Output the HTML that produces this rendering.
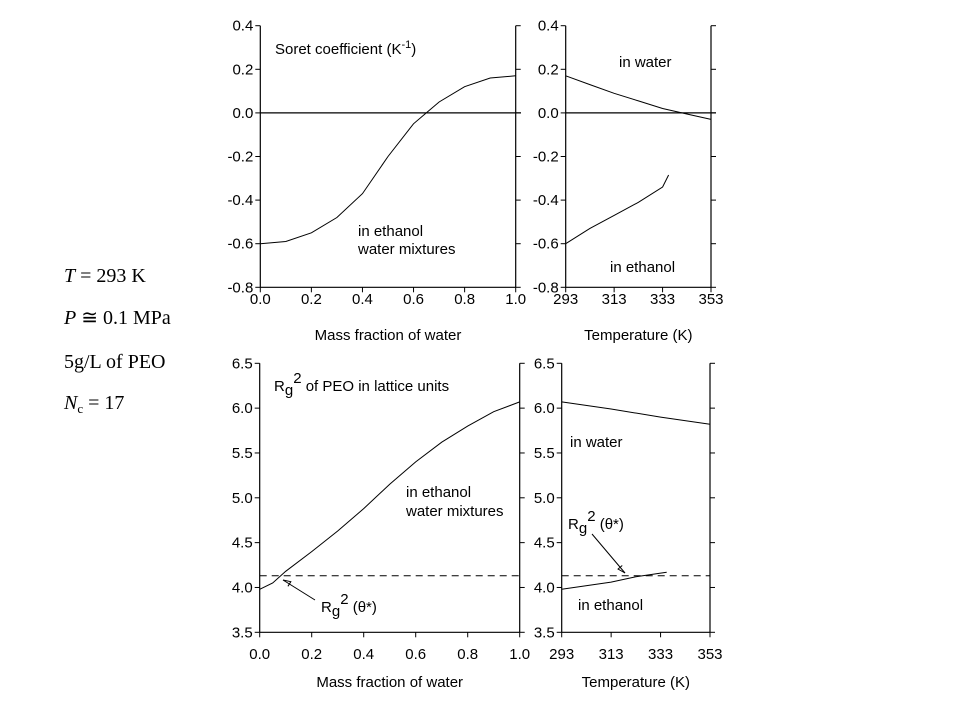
<!DOCTYPE html>
<html><head><meta charset="utf-8"><style>
body{margin:0;background:#fff;width:960px;height:720px;overflow:hidden}
svg{font-family:"Liberation Sans",Arial,sans-serif}
.t{font-family:"Liberation Serif",serif;font-size:20px}
</style></head><body>
<svg id="s" width="960" height="720">
<g>
<text class="t" x="64" y="282"><tspan font-style="italic">T</tspan> = 293 K</text>
<text class="t" x="64" y="324"><tspan font-style="italic">P</tspan> ≅ 0.1 MPa</text>
<text class="t" x="64" y="368">5g/L of PEO</text>
<text class="t" x="64" y="409"><tspan font-style="italic">N</tspan><tspan font-size="13" dy="4">c</tspan><tspan dy="-4"> = 17</tspan></text>
</g>
</svg>
<script>
// Top-left: Soret vs mass fraction
const soretX=[0,0.1,0.2,0.3,0.4,0.5,0.6,0.65,0.7,0.8,0.9,1.0];
const soretY=[-0.6,-0.59,-0.55,-0.48,-0.37,-0.2,-0.05,0.0,0.05,0.12,0.16,0.17];
// Top-right: Soret vs temperature
const soretWaterT=[293,303,313,323,333,343,353];
const soretWaterY=[0.17,0.13,0.09,0.055,0.02,-0.005,-0.03];
const soretEthT=[293,303,313,323,333,335.5];
const soretEthY=[-0.6,-0.53,-0.47,-0.41,-0.34,-0.285];
// Bottom-left: Rg2 vs mass fraction
const rgX=[0,0.05,0.1,0.2,0.3,0.4,0.5,0.6,0.7,0.8,0.9,1.0];
const rgY=[3.98,4.05,4.18,4.4,4.63,4.88,5.15,5.4,5.62,5.8,5.96,6.07];
// Bottom-right: Rg2 vs temperature
const rgWaterT=[293,313,333,353];
const rgWaterY=[6.07,5.99,5.9,5.82];
const rgEthT=[293,313,323,333,335.5];
const rgEthY=[3.98,4.06,4.12,4.16,4.17];
const thetaRg=4.13;
const fracTicks=["0.0","0.2","0.4","0.6","0.8","1.0"];
const tempTicks=["293","313","333","353"];
const soretTicks=["-0.8","-0.6","-0.4","-0.2","0.0","0.2","0.4"];
const rgTicks=["3.5","4.0","4.5","5.0","5.5","6.0","6.5"];

const NS="http://www.w3.org/2000/svg",S=document.getElementById('s');
function el(t,a,p){const e=document.createElementNS(NS,t);for(const k in a)e.setAttribute(k,a[k]);(p||S).appendChild(e);return e;}
function panel(name,x0,x1,y0,y1,xmin,xmax,ymin,ymax,xt,yt,xtitle,labY,titleY){
  const g=el('g',{});
  
  
  const sx=v=>x0+(v-xmin)/(xmax-xmin)*(x1-x0);
  const sy=v=>y1-(v-ymin)/(ymax-ymin)*(y1-y0);
  el('line',{x1:x0,y1:y0,x2:x0,y2:y1,stroke:'#000','stroke-width':1.2},g);
  el('line',{x1:x1,y1:y0,x2:x1,y2:y1,stroke:'#000','stroke-width':1.2},g);
  el('line',{x1:x0,y1:y1,x2:x1,y2:y1,stroke:'#000','stroke-width':1.2},g);
  yt.forEach(t=>{const y=sy(+t);
    el('line',{x1:x0-5,y1:y,x2:x0,y2:y,stroke:'#000'},g);
    el('line',{x1:x1,y1:y,x2:x1+5,y2:y,stroke:'#000'},g);
    const tx=el('text',{x:x0-7,y:y+5,'text-anchor':'end','font-size':15},g);tx.textContent=t;
    
    });
  xt.forEach(t=>{const x=sx(+t);
    el('line',{x1:x,y1:y1,x2:x,y2:y1+5,stroke:'#000'},g);
    const tx=el('text',{x:x,y:labY,'text-anchor':'middle','font-size':15},g);tx.textContent=t;
    
    });
  const tt=el('text',{x:(x0+x1)/2,y:titleY,'text-anchor':'middle','font-size':15},g);tt.textContent=xtitle;
  
  
  return {g,sx,sy};
}
function line(p,xs,ys,name,dash){
  const d=xs.map((v,i)=>(i?'L':'M')+p.sx(v).toFixed(1)+','+p.sy(ys[i]).toFixed(1)).join('');
  const e=el('path',{d:d,fill:'none',stroke:'#000','stroke-width':1,'stroke-dasharray':dash||'none'},p.g);
  
  
}
function txt(p,x,y,s,name){const e=el('text',{x:x,y:y,'font-size':15},p.g);e.innerHTML=s;
  
  }
function arrow(p,x1,y1,x2,y2){el('line',{x1:x1,y1:y1,x2:x2,y2:y2,stroke:'#000'},p.g);
  const a=Math.atan2(y2-y1,x2-x1),L=8;
  const pts=[[x2,y2],[x2-L*Math.cos(a-0.35),y2-L*Math.sin(a-0.35)],[x2-L*Math.cos(a+0.35),y2-L*Math.sin(a+0.35)]];
  el('polyline',{points:pts.map(q=>q.join(',')).join(' '),fill:'none',stroke:'#000'},p.g);}

const A=panel('soret-vs-fraction-panel',260.3,515.7,25.7,287.3,0,1,-0.8,0.4,fracTicks,soretTicks,'Mass fraction of water',304,340);
el('line',{x1:260.3,y1:A.sy(0),x2:521,y2:A.sy(0),stroke:'#000','stroke-width':1.2},A.g);
line(A,soretX,soretY,'soret-mixture-curve');
txt(A,275,54,'Soret coefficient (K<tspan dy="-6" font-size="11">-1</tspan><tspan dy="6">)</tspan>','panel-title');
txt(A,358,236,'in ethanol','label-ethanol');
txt(A,358,254,'water mixtures','label-mixtures');

const B=panel('soret-vs-temperature-panel',565.7,711,25.7,287.3,293,353,-0.8,0.4,tempTicks,soretTicks,'Temperature (K)',304,340);
el('line',{x1:565.7,y1:B.sy(0),x2:716,y2:B.sy(0),stroke:'#000','stroke-width':1.2},B.g);
line(B,soretWaterT,soretWaterY,'soret-water-line');
line(B,soretEthT,soretEthY,'soret-ethanol-line');
txt(B,619,67,'in water','label-in-water');
txt(B,610,272,'in ethanol','label-in-ethanol');

const C=panel('rg-vs-fraction-panel',259.7,519.7,363.3,632.3,0,1,3.5,6.5,fracTicks,rgTicks,'Mass fraction of water',659,687);
line(C,[0,1],[thetaRg,thetaRg],'theta-rg-dashed-line','7,5');
line(C,rgX,rgY,'rg-mixture-curve');
txt(C,274,391,'R<tspan dy="4">g</tspan><tspan dy="-12">2</tspan><tspan dy="8"> of PEO in lattice units</tspan>','panel-title');
txt(C,406,497,'in ethanol','label-ethanol');
txt(C,406,516,'water mixtures','label-mixtures');
txt(C,321,612,'R<tspan dy="4">g</tspan><tspan dy="-12">2</tspan><tspan dy="8"> (θ*)</tspan>','label-rg-theta');
arrow(C,315,600,283,580);

const D=panel('rg-vs-temperature-panel',561.7,710,363.3,632.3,293,353,3.5,6.5,tempTicks,rgTicks,'Temperature (K)',659,687);
line(D,[293,353],[thetaRg,thetaRg],'theta-rg-dashed-line','7,5');
line(D,rgWaterT,rgWaterY,'rg-water-line');
line(D,rgEthT,rgEthY,'rg-ethanol-line');
txt(D,570,447,'in water','label-in-water');
txt(D,578,610,'in ethanol','label-in-ethanol');
txt(D,568,529,'R<tspan dy="4">g</tspan><tspan dy="-12">2</tspan><tspan dy="8"> (θ*)</tspan>','label-rg-theta');
arrow(D,592,534,625,573);
</script>
</body></html>
